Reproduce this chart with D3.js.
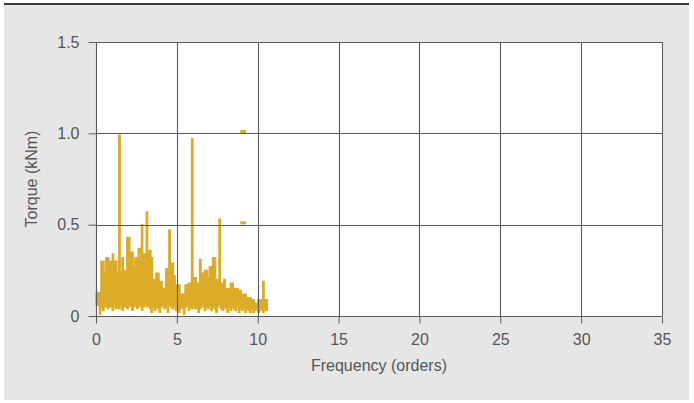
<!DOCTYPE html>
<html>
<head>
<meta charset="utf-8">
<script src="https://cdn.jsdelivr.net/npm/d3@7"></script>
<style>
  html, body { margin: 0; padding: 0; background: #ffffff; }
  svg { display: block; }
  text { font-family: "Liberation Sans", Arial, Helvetica, sans-serif; fill: #555555; }
</style>
</head>
<body>
<svg id="chart" width="694" height="403"></svg>
<script>
// Order spectrum of torque, sampled every 0.1 order from 0 to 10.6
const orderStep = 0.1;
const peakTorque = [
  0.13, 0.13, 0.13, 0.30, 0.30, 0.235, 0.32, 0.32, 0.30, 0.30,
  0.34, 0.30, 0.30, 0.235, 0.99, 0.24, 0.32, 0.25, 0.25, 0.43,
  0.43, 0.35, 0.35, 0.27, 0.32, 0.32, 0.37, 0.37, 0.50, 0.34,
  0.34, 0.57, 0.36, 0.36, 0.32, 0.20, 0.197, 0.235, 0.235, 0.19,
  0.19, 0.15, 0.15, 0.26, 0.26, 0.47, 0.29, 0.29, 0.22, 0.17,
  0.17, 0.17, 0.12, 0.12, 0.12, 0.17, 0.17, 0.18, 0.18, 0.97,
  0.21, 0.21, 0.18, 0.18, 0.31, 0.235, 0.235, 0.25, 0.25, 0.21,
  0.27, 0.27, 0.32, 0.32, 0.20, 0.20, 0.53, 0.18, 0.18, 0.20,
  0.15, 0.15, 0.15, 0.18, 0.18, 0.15, 0.15, 0.15, 0.14, 0.14,
  0.12, 0.12, 0.12, 0.10, 0.10, 0.10, 0.09, 0.09, 0.07, 0.07,
  0.09, 0.09, 0.09, 0.19, 0.09, 0.09, 0.09
];
const floorTorque = [
  0.06, 0.06, 0.01, 0.05, 0.03, 0.05, 0.05, 0.04, 0.05, 0.05,
  0.03, 0.06, 0.04, 0.05, 0.04, 0.06, 0.03, 0.05, 0.05, 0.04,
  0.06, 0.05, 0.03, 0.05, 0.06, 0.04, 0.05, 0.06, 0.03, 0.05,
  0.07, 0.05, 0.06, 0.04, 0.02, 0.05, 0.03, 0.05, 0.04, 0.02,
  0.05, 0.06, 0.04, 0.05, 0.02, 0.06, 0.05, 0.04, 0.06, 0.03,
  0.05, 0.02, 0.04, 0.05, 0.01, 0.05, 0.06, 0.03, 0.05, 0.04,
  0.06, 0.04, 0.05, 0.02, 0.04, 0.06, 0.05, 0.03, 0.05, 0.04,
  0.06, 0.03, 0.05, 0.04, 0.02, 0.05, 0.06, 0.04, 0.03, 0.05,
  0.04, 0.02, 0.05, 0.03, 0.05, 0.04, 0.03, 0.05, 0.02, 0.04,
  0.03, 0.05, 0.02, 0.04, 0.03, 0.02, 0.04, 0.02, 0.03, 0.04,
  0.02, 0.03, 0.04, 0.02, 0.04, 0.03, 0.03
];
// Isolated short markers near order 9
const markerOrder = [9.1, 9.1];
const markerTorque = [1.01, 0.51];

const xTicks = [0, 5, 10, 15, 20, 25, 30, 35];
const yTicks = [0, 0.5, 1.0, 1.5];
const yTickLabels = ["0", "0.5", "1.0", "1.5"];

const gold = "#dcab27";
const gridColor = "#5a5a5a";
const fontSize = 16;

const svg = d3.select("#chart");

// page frame: light grey panel with a dark rule on top
svg.append("rect").attr("x", 4).attr("y", 4).attr("width", 685).attr("height", 396).attr("fill", "#e6e6e7");
svg.append("line").attr("x1", 4).attr("x2", 689).attr("y1", 4).attr("y2", 4)
  .attr("stroke", "#3a3a3a").attr("stroke-width", 2);

const plot = { left: 96, right: 662, top: 42, bottom: 316 };
const x = d3.scaleLinear().domain([0, 35]).range([plot.left, plot.right]);
const y = d3.scaleLinear().domain([0, 1.5]).range([plot.bottom, plot.top]);

svg.append("rect")
  .attr("x", plot.left).attr("y", plot.top)
  .attr("width", plot.right - plot.left).attr("height", plot.bottom - plot.top)
  .attr("fill", "#ffffff");

// spectrum: vertical spans between floor and peak at each sample
const samples = peakTorque.map((p, i) => ({ order: i * orderStep, hi: p, lo: floorTorque[i] }));
const area = d3.area()
  .curve(d3.curveStepAfter)
  .x(d => x(d.order))
  .y0(d => y(d.lo))
  .y1(d => y(d.hi));
svg.append("path").datum(samples)
  .attr("d", area)
  .attr("fill", gold)
  .attr("stroke", gold)
  .attr("stroke-width", 1.2)
  .attr("stroke-linejoin", "miter");

svg.append("g").selectAll("line").data(markerOrder.map((o, i) => ({ o, t: markerTorque[i] })))
  .join("line")
  .attr("x1", d => x(d.o - 0.18)).attr("x2", d => x(d.o + 0.18))
  .attr("y1", d => y(d.t)).attr("y2", d => y(d.t))
  .attr("stroke", gold).attr("stroke-width", 3);

// grid
const grid = svg.append("g").attr("stroke", gridColor).attr("stroke-width", 1.1);
grid.selectAll(".gx").data(xTicks).join("line")
  .attr("x1", d => Math.round(x(d)) + 0.5).attr("x2", d => Math.round(x(d)) + 0.5)
  .attr("y1", plot.top).attr("y2", plot.bottom);
grid.selectAll(".gy").data(yTicks).join("line")
  .attr("x1", plot.left).attr("x2", plot.right)
  .attr("y1", d => Math.round(y(d)) + 0.5).attr("y2", d => Math.round(y(d)) + 0.5);

// axes
const xAxis = d3.axisBottom(x).tickValues(xTicks).tickSize(7).tickPadding(10).tickFormat(d3.format("d"));
const gx = svg.append("g").attr("transform", `translate(0,${Math.round(plot.bottom) + 0.5})`).call(xAxis);
gx.selectAll(".tick line").attr("stroke", gridColor);
gx.selectAll(".tick text").attr("font-size", fontSize).style("fill", "#555");

const yAxis = d3.axisLeft(y).tickValues(yTicks).tickSize(8).tickPadding(9)
  .tickFormat((d, i) => yTickLabels[i]);
const gy = svg.append("g").attr("transform", `translate(${Math.round(plot.left) + 0.5},0)`).call(yAxis);
gy.selectAll(".tick line").attr("stroke", gridColor);
gy.selectAll(".tick text").attr("font-size", fontSize).style("fill", "#555");
svg.selectAll(".domain").remove();

// axis titles
svg.append("text")
  .attr("x", 379).attr("y", 371)
  .attr("text-anchor", "middle").attr("font-size", fontSize)
  .text("Frequency (orders)");
svg.append("text")
  .attr("transform", `translate(37,${(plot.top + plot.bottom) / 2}) rotate(-90)`)
  .attr("text-anchor", "middle").attr("font-size", fontSize)
  .text("Torque (kNm)");
</script>
</body>
</html>
